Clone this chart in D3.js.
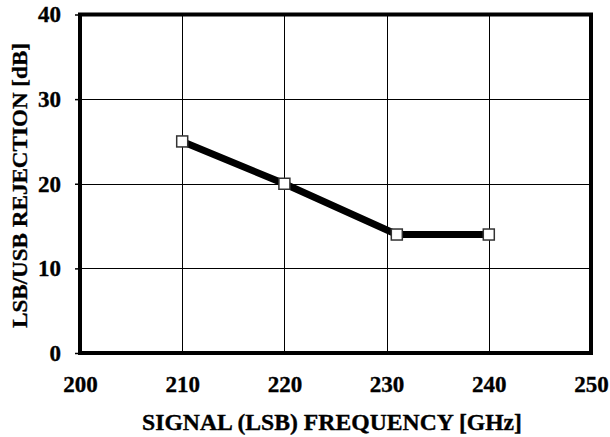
<!DOCTYPE html>
<html>
<head>
<meta charset="utf-8">
<script src="https://cdn.jsdelivr.net/npm/d3@7"></script>
<style>
  html, body { margin: 0; padding: 0; background: #fff; }
  svg { display: block; }
  text { font-family: "Liberation Serif", "Times New Roman", serif; font-weight: bold; fill: #000; stroke: #000; stroke-width: 0.35px; }
</style>
</head>
<body>
<svg id="chart" width="610" height="437"></svg>
<script>
// Measured sideband rejection versus signal frequency
const frequencyGHz = [210, 220, 231, 240];
const rejectionDb = [25, 20, 14, 14];

const xTicks = [200, 210, 220, 230, 240, 250];
const yTicks = [0, 10, 20, 30, 40];

const xTitle = "SIGNAL (LSB) FREQUENCY [GHz]";
const yTitle = "LSB/USB REJECTION [dB]";

const svg = d3.select("#chart");
const plot = { left: 80, right: 591, top: 14.5, bottom: 353 };

const x = d3.scaleLinear().domain([200, 250]).range([plot.left, plot.right]);
const y = d3.scaleLinear().domain([0, 40]).range([plot.bottom, plot.top]);

// grid lines
const grid = svg.append("g").attr("stroke", "#000").attr("stroke-width", 1).attr("shape-rendering", "crispEdges");
grid.selectAll("line.vx").data(xTicks.slice(1, -1)).join("line")
  .attr("x1", d => Math.round(x(d)) + 0.5).attr("x2", d => Math.round(x(d)) + 0.5)
  .attr("y1", plot.top).attr("y2", plot.bottom);
grid.selectAll("line.hy").data(yTicks.slice(1, -1)).join("line")
  .attr("x1", plot.left).attr("x2", plot.right)
  .attr("y1", d => Math.round(y(d)) + 0.5).attr("y2", d => Math.round(y(d)) + 0.5);

const tickFont = sel => sel
  .style("font-family", '"Liberation Serif", "Times New Roman", serif')
  .style("font-weight", "bold")
  .style("font-size", "23px")
  .attr("fill", "#000");

// y axis: short outside ticks and labels
const yAxis = d3.axisLeft(y).tickValues(yTicks).tickSize(5).tickPadding(14);
const gy = svg.append("g").attr("transform", `translate(${plot.left},0)`).call(yAxis);
gy.select(".domain").remove();
gy.selectAll(".tick line").attr("stroke", "#000").attr("stroke-width", 1.5);
gy.selectAll(".tick text").call(tickFont);

// x axis labels (no tick marks)
const xAxis = d3.axisBottom(x).tickValues(xTicks).tickSize(0).tickPadding(23);
const gx = svg.append("g").attr("transform", `translate(0,${plot.bottom})`).call(xAxis);
gx.select(".domain").remove();
gx.selectAll(".tick text").call(tickFont);

// frame
svg.append("rect")
  .attr("x", plot.left).attr("y", plot.top)
  .attr("width", plot.right - plot.left).attr("height", plot.bottom - plot.top)
  .attr("fill", "none").attr("stroke", "#000").attr("stroke-width", 4);

// data line
const points = frequencyGHz.map((f, i) => [f, rejectionDb[i]]);
svg.append("path")
  .datum(points)
  .attr("d", d3.line().x(d => x(d[0])).y(d => y(d[1])))
  .attr("fill", "none").attr("stroke", "#000").attr("stroke-width", 7)
  .attr("stroke-linejoin", "miter");

// square markers
const m = 11;
svg.selectAll("rect.marker").data(points).join("rect")
  .attr("class", "marker")
  .attr("x", d => x(d[0]) - m / 2).attr("y", d => y(d[1]) - m / 2)
  .attr("width", m).attr("height", m)
  .attr("fill", "#fff").attr("stroke", "#333").attr("stroke-width", 1.5);

// axis titles
svg.append("text")
  .attr("x", 332).attr("y", 430)
  .attr("text-anchor", "middle").style("font-size", "23px")
  .attr("textLength", 380).attr("lengthAdjust", "spacingAndGlyphs")
  .text(xTitle);

svg.append("text")
  .attr("transform", `translate(27,185.5) rotate(-90)`)
  .attr("text-anchor", "middle").style("font-size", "22px")
  .attr("textLength", 285).attr("lengthAdjust", "spacingAndGlyphs")
  .text(yTitle);
</script>
</body>
</html>
